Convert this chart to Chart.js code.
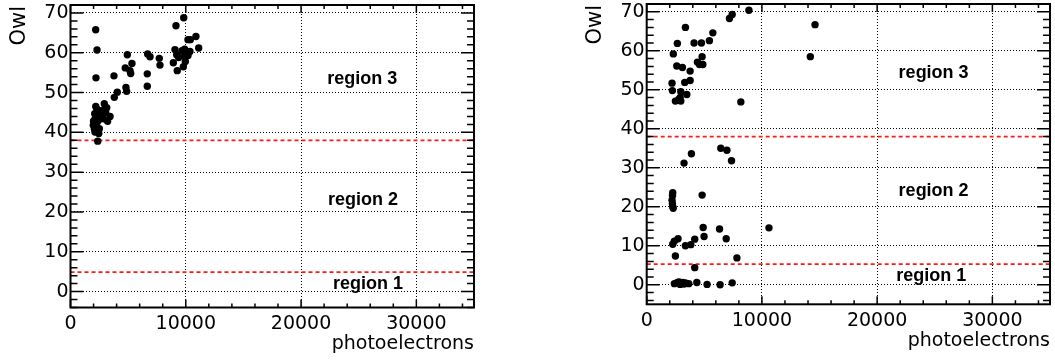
<!DOCTYPE html>
<html>
<head>
<meta charset="utf-8">
<script src="https://cdn.jsdelivr.net/npm/chart.js@4/dist/chart.umd.min.js"></script>
<style>
  html, body { margin: 0; padding: 0; background: #fff; }
  #wrap { position: relative; width: 1055px; height: 360px; overflow: hidden; }
  canvas { position: absolute; top: 0; }
</style>
</head>
<body>
<div id="wrap">
  <canvas id="left" width="527" height="360" style="left:0"></canvas>
  <canvas id="right" width="528" height="360" style="left:527px"></canvas>
</div>
<script>
// axis ticks (same for both pads)
var xTicks = [0, 10000, 20000, 30000];
var yTicks = [0, 10, 20, 30, 40, 50, 60, 70];
var xTitle = 'photoelectrons';
var yTitle = 'Owl';

// left pad
var leftX = [2185, 2300, 2210, 3770, 3800, 4060, 4810, 4870, 4750, 4930, 5330, 5160, 5220,
  6690, 6900, 7700, 7760, 6660, 6660, 9820, 9150, 10190, 10390, 10880, 11120, 9060, 9670,
  9900, 10080, 10360, 9210, 9380, 9900, 10190, 8920, 9960, 9790, 9260,
  2190, 2930, 3140, 2760, 2470, 2100, 3430, 3220, 2850, 2100, 2410, 1980, 2270, 2070,
  2500, 2120, 2450, 2360, 2600, 2300, 2000, 3050];
var leftY = [65.8, 60.7, 53.7, 54.2, 48.8, 50.1, 51.3, 50.3, 56.2, 59.5, 57.3, 55.5, 54.8,
  59.7, 59.0, 58.6, 56.9, 54.7, 51.6, 68.8, 66.8, 63.3, 63.3, 64.1, 61.2, 60.8, 60.5,
  60.9, 60.1, 60.3, 59.5, 58.8, 59.2, 59.3, 57.5, 57.8, 56.5, 55.5,
  46.5, 47.2, 46.2, 45.5, 44.7, 44.7, 44.0, 42.8, 43.4, 43.2, 43.0, 41.8, 42.2, 40.9,
  40.9, 40.1, 39.7, 37.8, 44.0, 45.8, 42.8, 45.0];
var leftCuts = [38, 4.9];
var leftRegions = ['region 3', 'region 2', 'region 1'];
var leftRegionX = [25300, 25370, 25800];
var leftRegionY = [53.5, 23, 2];

// right pad
var rightX = [8870, 7420, 7180, 3360, 5740, 5440, 2660, 4110, 4750, 2310, 4810, 4400, 4580,
  4870, 2610, 3100, 3770, 3770, 3300, 2200, 2230, 2960, 3480, 2900, 2780, 2490, 2960, 8170,
  14200, 14610,
  6430, 6960, 7360, 3880, 3240, 2260, 2240, 2200, 2230, 2260, 2300, 4810, 4900, 4980, 6320,
  6900, 7830, 10610, 2260, 2400, 2720, 2490, 3360, 3830, 4170, 4170,
  2400, 2660, 2900, 3130, 3360, 3650, 4350, 5240, 6370, 7420, 2800, 3250];
var rightY = [70.4, 69.3, 68.3, 66.0, 64.6, 62.6, 61.9, 62.0, 62.0, 59.2, 58.5, 57.1, 56.5,
  56.5, 56.1, 55.7, 54.8, 52.4, 51.9, 51.7, 49.8, 49.5, 48.8, 48.0, 47.5, 47.1, 47.1, 46.9,
  58.5, 66.7,
  35.0, 34.5, 31.8, 33.6, 31.2, 23.6, 22.9, 21.7, 20.8, 20.1, 19.6, 23.0, 14.7, 12.4, 14.3,
  11.8, 6.9, 14.6, 10.4, 11.2, 11.8, 7.4, 10.0, 10.3, 11.7, 4.4,
  0.3, 0.6, 0.1, 0.6, 0.5, 0.3, 0.6, 0.1, 0.0, 0.5, 0.7, 0.2];
var rightCuts = [38, 5.3];
var rightRegions = ['region 3', 'region 2', 'region 1'];
var rightRegionX = [24900, 24900, 24700];
var rightRegionY = [54.2, 24, 2.3];

var X_MIN = 0, X_MAX = 35000;
var TICK_FONT = { family: 'DejaVu Sans', size: 19 };

function toPoints(xs, ys) {
  return xs.map(function(x, i) { return { x: x, y: ys[i] }; });
}

// frame, ROOT-style inner ticks, region labels and axis titles
var rootFrame = {
  id: 'rootFrame',
  afterDatasetsDraw: function(chart, args, o) {
    var ctx = chart.ctx, a = chart.chartArea;
    var xs = chart.scales.x, ys = chart.scales.y;
    ctx.save();
    ctx.strokeStyle = '#000';
    ctx.lineWidth = 1.5;
    ctx.beginPath();
    for (var v = 0; v <= xs.max; v += 2000) {
      var px = xs.getPixelForValue(v);
      var len = v % 10000 === 0 ? 8 : 4;
      ctx.moveTo(px, a.bottom); ctx.lineTo(px, a.bottom - len);
      ctx.moveTo(px, a.top); ctx.lineTo(px, a.top + len);
    }
    for (var w = Math.ceil(ys.min / 2) * 2; w <= ys.max; w += 2) {
      var py = ys.getPixelForValue(w);
      var l2 = w % 10 === 0 ? 13 : 7;
      ctx.moveTo(a.left, py); ctx.lineTo(a.left + l2, py);
      ctx.moveTo(a.right, py); ctx.lineTo(a.right - l2, py);
    }
    ctx.stroke();
    ctx.lineWidth = 2;
    ctx.strokeRect(a.left, a.top, a.right - a.left, a.bottom - a.top);

    // region labels
    ctx.fillStyle = '#000';
    ctx.font = 'bold 18px "Liberation Sans", Arial, sans-serif';
    ctx.textAlign = 'center';
    ctx.textBaseline = 'middle';
    for (var i = 0; i < o.regions.length; i++) {
      ctx.fillText(o.regions[i], xs.getPixelForValue(o.regionX[i]), ys.getPixelForValue(o.regionY[i]));
    }

    // axis titles
    ctx.font = '19px "DejaVu Sans", sans-serif';
    ctx.textAlign = 'right';
    ctx.textBaseline = 'alphabetic';
    ctx.fillText(xTitle, a.right, o.xTitleY);
    ctx.font = '21px "DejaVu Sans", sans-serif';
    ctx.translate(o.yTitleX, a.top);
    ctx.rotate(-Math.PI / 2);
    ctx.fillText(yTitle, -1, 0);
    ctx.restore();
  }
};

function makePanel(id, xs, ys, cuts, regions, regionX, regionY, box) {
  var canvas = document.getElementById(id);
  var W = canvas.width, H = canvas.height;
  var datasets = [{
    data: toPoints(xs, ys),
    backgroundColor: '#000',
    borderWidth: 0,
    pointRadius: 3.7,
    order: 0
  }];
  cuts.forEach(function(c) {
    datasets.push({
      data: [{ x: X_MIN, y: c }, { x: X_MAX, y: c }],
      showLine: true,
      borderColor: '#ff1a1a',
      borderWidth: 1.6,
      borderDash: [4, 3],
      pointRadius: 0,
      order: 1
    });
  });
  return new Chart(canvas, {
    type: 'scatter',
    data: { datasets: datasets },
    options: {
      responsive: false,
      animation: false,
      events: [],
      layout: { padding: { left: 0, top: box.top, right: W - box.right, bottom: 0 } },
      plugins: {
        legend: { display: false },
        tooltip: { enabled: false },
        rootFrame: { regions: regions, regionX: regionX, regionY: regionY,
                     xTitleY: box.xTitleY, yTitleX: box.yTitleX }
      },
      scales: {
        x: {
          type: 'linear', min: X_MIN, max: X_MAX,
          afterBuildTicks: function(s) { s.ticks = xTicks.map(function(v) { return { value: v }; }); },
          afterFit: function(s) { s.height = H - box.bottom; s.paddingLeft = 0; s.paddingRight = 0; },
          grid: { color: '#000', lineWidth: 1, drawTicks: false },
          border: { display: false, dash: [1, 2] },
          ticks: { color: '#000', font: TICK_FONT, padding: 5, maxRotation: 0,
                   callback: function(v) { return String(v); } }
        },
        y: {
          type: 'linear', min: box.yMin, max: box.yMax,
          afterBuildTicks: function(s) { s.ticks = yTicks.map(function(v) { return { value: v }; }); },
          afterFit: function(s) { s.width = box.left; s.paddingTop = 0; s.paddingBottom = 0; },
          grid: { color: '#000', lineWidth: 1, drawTicks: false },
          border: { display: false, dash: [1, 2] },
          ticks: { color: '#000', font: TICK_FONT, padding: 2,
                   callback: function(v) { return String(v); } }
        }
      }
    },
    plugins: [rootFrame]
  });
}

makePanel('left', leftX, leftY, leftCuts, leftRegions, leftRegionX, leftRegionY,
  { left: 70.5, right: 474, top: 5, bottom: 307.5, yMin: -4, yMax: 72, xTitleY: 349, yTitleX: 25 });
makePanel('right', rightX, rightY, rightCuts, rightRegions, rightRegionX, rightRegionY,
  { left: 119.7, right: 523, top: 2, bottom: 304.3, yMin: -5, yMax: 72, xTitleY: 346, yTitleX: 74 });
</script>
</body>
</html>
